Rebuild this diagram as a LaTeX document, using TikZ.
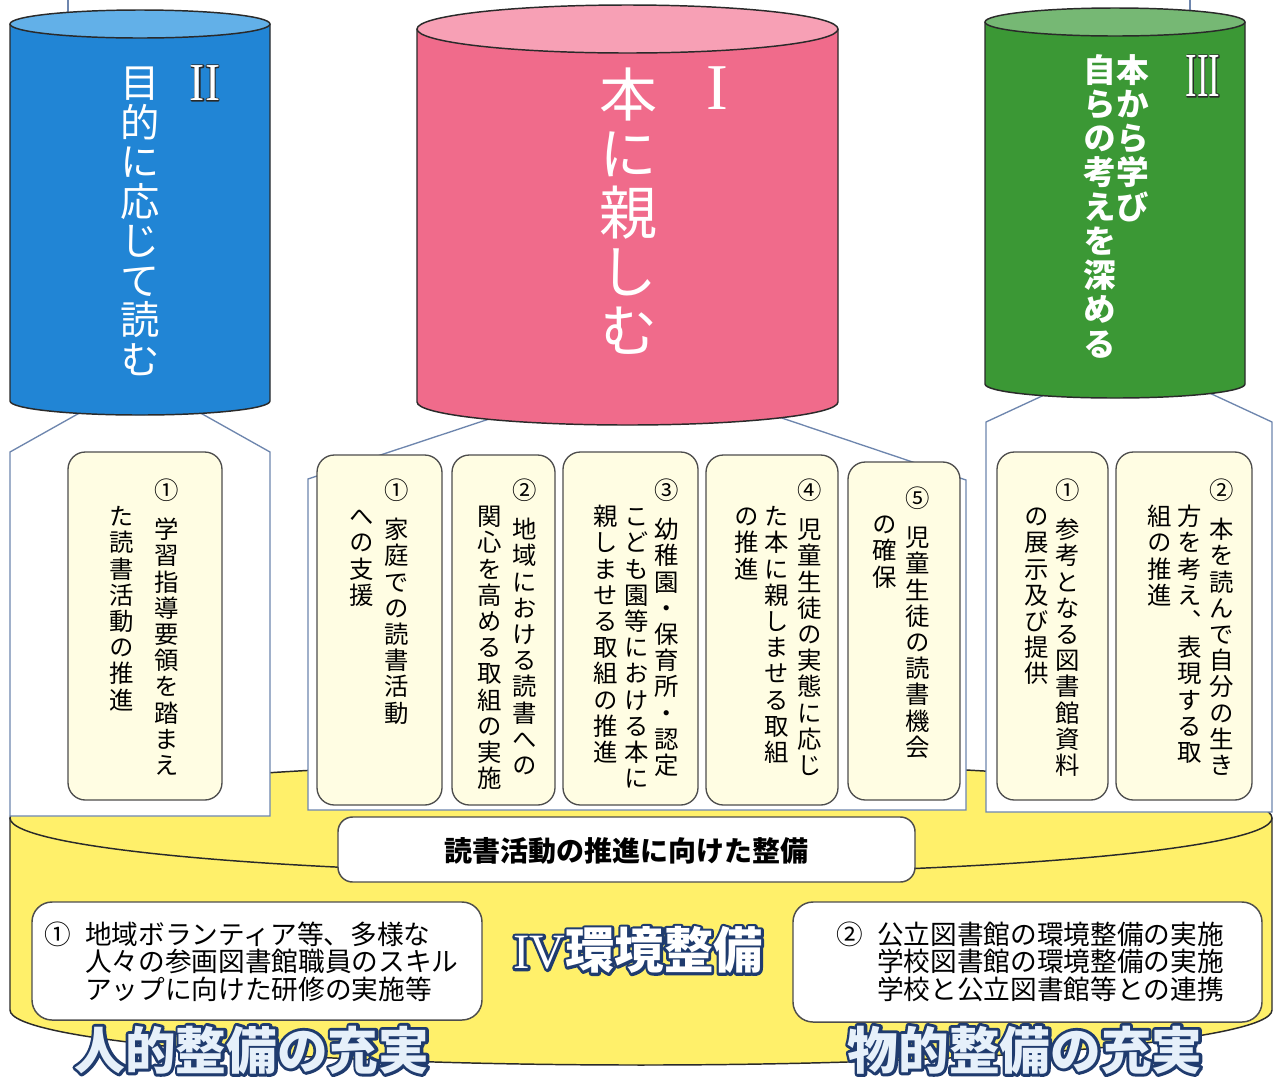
\documentclass[tikz,border=0pt]{standalone}
\usepackage{fontspec}
\usepackage{graphicx}
\setmainfont{Noto Sans CJK JP}
\newfontfamily\jp{Noto Sans CJK JP}
\newfontfamily\vjp[RawFeature=+vert]{Noto Sans CJK JP}
\newfontfamily\rmn{Liberation Serif}
\definecolor{bluesd}{HTML}{2185D5}
\definecolor{bluetp}{HTML}{62B0E8}
\definecolor{pinksd}{HTML}{F06B8B}
\definecolor{pinktp}{HTML}{F7A0B5}
\definecolor{greensd}{HTML}{3B9835}
\definecolor{greentp}{HTML}{76B874}
\definecolor{ylw}{HTML}{FFF06A}
\definecolor{cream}{HTML}{FFFDE3}
\definecolor{boxc}{HTML}{4D4D4D}
\definecolor{panelc}{HTML}{6E86AE}
\definecolor{navy}{HTML}{1E3A6E}
\definecolor{lightfill}{HTML}{E6F0FA}
\definecolor{cylc}{HTML}{2A2A2A}
\makeatletter
\newcommand\vs[2][1.08em]{\vbox{\offinterlineskip\def\vs@p{#1}\vs@i#2\@nil}}
\def\vs@i#1#2\@nil{\hbox to 1em{\hss\vrule height .88em depth \dimexpr\vs@p-.88em\relax width 0pt\relax#1\hss}\ifx\relax#2\relax\else\vs@i#2\@nil\fi}
\makeatother
% outlined text: #1 stroke colour (pdf rgb), #2 stroke width, #3 text
% a stroked copy lies under the filled text, so the outline sits outside the glyphs
\newcommand\olt[3]{\rlap{\special{pdf:literal direct 1 Tr #2 w 1 j #1 RG}#3\special{pdf:literal direct 0 Tr}}#3}
\def\bp{19.65pt}
\begin{document}
\begin{tikzpicture}[x=0.75pt,y=-0.75pt,
  cyl/.style={draw=cylc,line width=1.1pt},
  panel/.style={fill=white,draw=panelc,line width=1pt},
  ybox/.style={draw=boxc,fill=cream,line width=1pt,rounded corners=13pt,inner sep=0pt},
  wbox/.style={draw=boxc,fill=white,line width=1.1pt,rounded corners=15pt,inner sep=0pt},
  vcol/.style={anchor=north,inner sep=0pt,font=\vjp\fontsize{18.3pt}{20pt}\selectfont},
  hline/.style={anchor=base west,inner sep=0pt,font=\jp\fontsize{20pt}{21pt}\selectfont},
  cyltext/.style={anchor=north,inner sep=0pt,text=white},
  bigtitle/.style={inner sep=0pt,font=\jp\bfseries\fontsize{38pt}{40pt}\selectfont}]
\path[use as bounding box,fill=white] (0,0) rectangle (1275,1076);

% ---- yellow base cylinder (IV)
\fill[ylw] (10,818) -- (10,1010) arc[start angle=180,end angle=360,x radius=473.25pt,y radius=41.25pt] -- (1272,818) -- cycle;
\draw[cyl] (10,818) -- (10,1010) arc[start angle=180,end angle=360,x radius=473.25pt,y radius=41.25pt] -- (1272,818);
\filldraw[cyl,fill=ylw] (641,818) ellipse[x radius=473.25pt,y radius=42pt];

% ---- thin lines at the top
\coordinate (tA0) at (68,0); \coordinate (tA1) at (68,16);
\coordinate (tB0) at (1190,0); \coordinate (tB1) at (1190,16);
\draw[panelc,line width=1pt] (tA0) -- (tA1);
\draw[panelc,line width=1pt] (tB0) -- (tB1);

% ---- white panels
\filldraw[panel] (85,409.9) -- (10,452) -- (10,816) -- (270,816) -- (270,452) -- (195,409.9);
\filldraw[panel] (500,415.4) -- (308,479) -- (308,810) -- (966,810) -- (966,480) -- (770,414);
\filldraw[panel] (1055,390) -- (986,422) -- (986,812) -- (1272,812) -- (1272,422) -- (1175,377);

% ---- cylinder II (blue)
\fill[bluesd] (10,24) -- (10,401) arc[start angle=180,end angle=360,x radius=97.5pt,y radius=10.5pt] -- (270,24) -- cycle;
\draw[cyl] (10,24) -- (10,401) arc[start angle=180,end angle=360,x radius=97.5pt,y radius=10.5pt] -- (270,24);
\filldraw[cyl,fill=bluetp] (140,24) ellipse[x radius=97.5pt,y radius=10.5pt];
% ---- cylinder I (pink)
\fill[pinksd] (417,29) -- (417,402) arc[start angle=180,end angle=360,x radius=157.875pt,y radius=17.25pt] -- (838,29) -- cycle;
\draw[cyl] (417,29) -- (417,402) arc[start angle=180,end angle=360,x radius=157.875pt,y radius=17.25pt] -- (838,29);
\filldraw[cyl,fill=pinktp] (627.5,29) ellipse[x radius=157.875pt,y radius=18pt];
% ---- cylinder III (green)
\fill[greensd] (985,22) -- (985,384) arc[start angle=180,end angle=360,x radius=97.5pt,y radius=10.5pt] -- (1245,22) -- cycle;
\draw[cyl] (985,22) -- (985,384) arc[start angle=180,end angle=360,x radius=97.5pt,y radius=10.5pt] -- (1245,22);
\filldraw[cyl,fill=greentp] (1115,22) ellipse[x radius=97.5pt,y radius=10.5pt];

% ---- cylinder labels
\node[cyltext,font=\vjp\fontsize{29.5pt}{30pt}\selectfont] (tII) at (140,63) {\vs[29.6pt]{目的に応じて読む}};
\node[inner sep=0pt,text=white,font=\rmn\fontsize{40pt}{42pt}\selectfont] (nII) at (205,83) {\olt{0.16 0.16 0.16}{1.6}{\scalebox{0.85}[1]{II}}};
\node[cyltext,font=\vjp\fontsize{43.5pt}{44pt}\selectfont] (tI) at (628,65) {\vs[44.3pt]{本に親しむ}};
\node[inner sep=0pt,text=white,font=\rmn\fontsize{49pt}{50pt}\selectfont] (nI) at (717,88) {I};
\node[cyltext,font=\vjp\bfseries\fontsize{24.5pt}{25pt}\selectfont] (tIIIa) at (1133,53) {\vs[25.7pt]{本から学び}};
\node[cyltext,font=\vjp\bfseries\fontsize{24.5pt}{25pt}\selectfont] (tIIIb) at (1100,53) {\vs[25.7pt]{自らの考えを深める}};
\node[inner sep=0pt,text=white,font=\rmn\fontsize{47pt}{48pt}\selectfont] (nIII) at (1203,76) {\olt{0.16 0.16 0.16}{1.6}{\scalebox{0.55}[1]{III}}};

% ---- cream boxes
\node[ybox,minimum width=115.5pt,minimum height=261pt] (bL) at (145,626) {};
\node[ybox,minimum width=93.75pt,minimum height=262.5pt] (bM1) at (379.5,630) {};
\node[ybox,minimum width=77.25pt,minimum height=262.5pt] (bM2) at (503.5,630) {};
\node[ybox,minimum width=101.25pt,minimum height=264.75pt] (bM3) at (630.5,628.5) {};
\node[ybox,minimum width=99pt,minimum height=262.5pt] (bM4) at (772,630) {};
\node[ybox,minimum width=84pt,minimum height=253.5pt] (bM5) at (904,631) {};
\node[ybox,minimum width=83.25pt,minimum height=261pt] (bR1) at (1052.5,626) {};
\node[ybox,minimum width=102pt,minimum height=261pt] (bR2) at (1184,626) {};

% ---- vertical texts
\node[vcol] (L0) at (167,478) {\vs[\bp]{①}};
\node[vcol] (L1) at (167,517) {\vs[\bp]{学習指導要領を踏まえ}};
\node[vcol] (L2) at (122,504) {\vs[\bp]{た読書活動の推進}};

\node[vcol] (M10) at (397,478) {\vs[\bp]{①}};
\node[vcol] (M11) at (397,517) {\vs[\bp]{家庭での読書活動}};
\node[vcol] (M12) at (362,504) {\vs[\bp]{への支援}};

\node[vcol] (M20) at (525,478) {\vs[\bp]{②}};
\node[vcol] (M21) at (525,517) {\vs[\bp]{地域における読書への}};
\node[vcol] (M22) at (490,504) {\vs[\bp]{関心を高める取組の実施}};

\node[vcol] (M30) at (667,478) {\vs[\bp]{③}};
\node[vcol] (M31) at (667,517) {\vs[\bp]{幼稚園・保育所・認定}};
\node[vcol] (M32) at (637,504) {\vs[\bp]{こども園等における本に}};
\node[vcol] (M33) at (606,504) {\vs[\bp]{親しませる取組の推進}};

\node[vcol] (M40) at (810,478) {\vs[\bp]{④}};
\node[vcol] (M41) at (810,517) {\vs[\bp]{児童生徒の実態に応じ}};
\node[vcol] (M42) at (777,504) {\vs[\bp]{た本に親しませる取組}};
\node[vcol] (M43) at (747,504) {\vs[\bp]{の推進}};

\node[vcol] (M50) at (918,486) {\vs[\bp]{⑤}};
\node[vcol] (M51) at (918,525) {\vs[\bp]{児童生徒の読書機会}};
\node[vcol] (M52) at (885,512) {\vs[\bp]{の確保}};

\node[vcol] (R10) at (1068,478) {\vs[\bp]{①}};
\node[vcol] (R11) at (1068,517) {\vs[\bp]{参考となる図書館資料}};
\node[vcol] (R12) at (1037,504) {\vs[\bp]{の展示及び提供}};

\node[vcol] (R20) at (1222,478) {\vs[\bp]{②}};
\node[vcol] (R21) at (1222,517) {\vs[\bp]{本を読んで自分の生き}};
\node[vcol] (R22) at (1190,504) {\vs[\bp]{方を考え、表現する取}};
\node[vcol] (R23) at (1160,504) {\vs[\bp]{組の推進}};

% ---- bottom boxes
\node[wbox,rounded corners=11pt,minimum width=432.75pt,minimum height=48.75pt] (bHead) at (626.5,849.5) {};
\node[inner sep=0pt,font=\jp\bfseries\fontsize{21pt}{22pt}\selectfont] (tHead) at (626.5,851) {読書活動の推進に向けた整備};

\node[wbox,minimum width=337.5pt,minimum height=88.5pt] (bB1) at (257,961) {};
\node[hline] (B10) at (44,944) {①};
\node[hline] (B11) at (85,944) {地域ボランティア等、多様な};
\node[hline] (B12) at (85,971.5) {人々の参画図書館職員のスキル};
\node[hline] (B13) at (85,999) {アップに向けた研修の実施等};

\node[wbox,minimum width=351.75pt,minimum height=90pt] (bB2) at (1027.5,962) {};
\node[hline] (B20) at (836,944) {②};
\node[hline] (B21) at (877,944) {公立図書館の環境整備の実施};
\node[hline] (B22) at (877,971.5) {学校図書館の環境整備の実施};
\node[hline] (B23) at (877,999) {学校と公立図書館等との連携};

% ---- outlined titles
\node[bigtitle,font=\jp\bfseries\fontsize{37pt}{40pt}\selectfont,text=white] (tIV) at (638,950) {\olt{0.12 0.23 0.43}{4}{{\rmn\mdseries IV}環境整備}};
\node[bigtitle,text=lightfill] (tHum) at (252,1050) {\olt{0.12 0.23 0.43}{4.4}{人的整備の充実}};
\node[bigtitle,text=lightfill] (tPhy) at (1025,1050) {\olt{0.12 0.23 0.43}{4.4}{物的整備の充実}};
\end{tikzpicture}
\end{document}
